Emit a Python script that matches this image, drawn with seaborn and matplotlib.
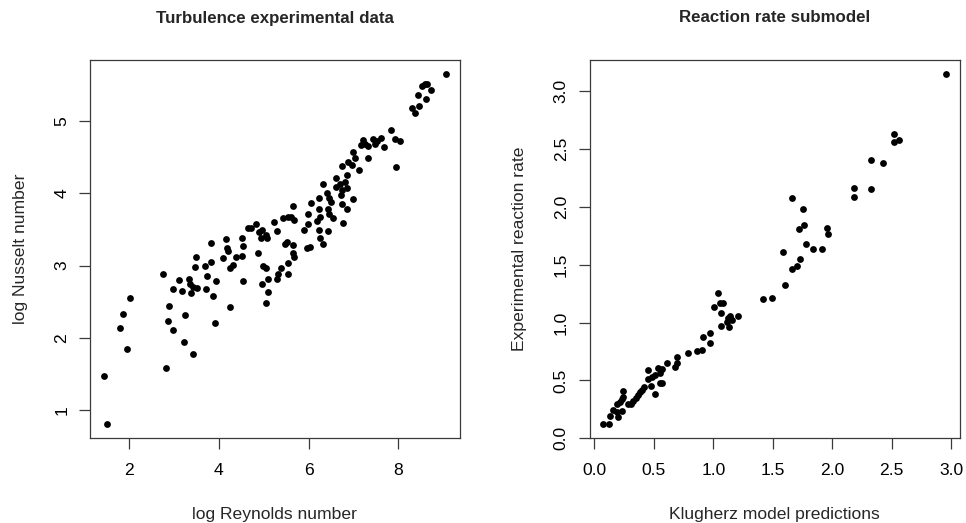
import matplotlib
matplotlib.use("Agg")
import matplotlib.pyplot as plt
import seaborn as sns
import pandas as pd

# ---- Left panel: turbulence data ----
log_reynolds = [
    1.43, 1.50, 2.02, 1.86, 1.79, 1.95, 2.76, 2.89, 2.86, 2.97, 2.81, 2.98, 3.22, 3.43,
    3.10, 3.24, 3.91, 4.25, 3.48, 3.46, 3.33, 3.35, 3.43, 3.52, 3.18, 3.38, 3.71, 3.73,
    3.69, 3.82, 3.82, 3.93, 3.87, 4.16, 4.17, 4.20, 4.10, 4.25, 4.32, 4.39, 4.51, 4.54,
    4.51, 4.54, 4.64, 4.71, 4.83, 4.88, 4.89, 4.97, 5.04, 4.94, 5.08, 5.23, 5.29, 4.99,
    5.04, 5.09, 4.95, 5.09, 5.04, 5.29, 5.32, 5.38, 5.53, 5.53, 5.47, 5.51, 5.66, 5.66,
    5.68, 5.43, 5.53, 5.61, 5.66, 5.68, 5.90, 5.98, 5.99, 5.96, 6.03, 6.06, 6.18, 6.23,
    6.25, 6.23, 6.25, 6.33, 6.44, 6.23, 6.33, 6.40, 6.45, 6.50, 6.42, 6.45, 6.55, 6.62,
    6.60, 6.70, 6.81, 6.74, 6.86, 6.72, 6.74, 6.85, 6.76, 6.99, 6.86, 6.74, 6.88, 6.96,
    6.99, 7.03, 7.13, 7.16, 7.22, 7.26, 7.33, 7.33, 7.43, 7.53, 7.48, 7.61, 7.68, 7.83,
    7.93, 8.04, 7.95, 8.30, 8.37, 8.46, 8.44, 8.62, 8.52, 8.59, 8.64, 8.73, 9.06,
]
log_nusselt = [
    1.47, 0.80, 2.55, 2.33, 2.14, 1.84, 2.88, 2.44, 2.23, 2.11, 1.58, 2.68, 1.94, 1.78,
    2.80, 2.32, 2.20, 2.42, 3.12, 2.98, 2.81, 2.75, 2.71, 2.69, 2.65, 2.62, 2.67, 2.86,
    2.99, 3.05, 3.31, 2.78, 2.58, 3.37, 3.24, 3.20, 3.10, 2.96, 3.01, 3.12, 3.38, 3.27,
    3.13, 2.79, 3.52, 3.52, 3.57, 3.17, 3.47, 3.49, 3.42, 3.38, 3.38, 3.61, 3.48, 3.00,
    2.96, 2.81, 2.75, 2.64, 2.48, 2.82, 2.89, 2.96, 2.88, 3.03, 3.30, 3.33, 3.29, 3.18,
    3.12, 3.66, 3.68, 3.67, 3.83, 3.63, 3.50, 3.58, 3.71, 3.25, 3.26, 3.87, 3.62, 3.78,
    3.68, 3.49, 3.38, 3.30, 3.48, 3.94, 4.13, 4.01, 3.93, 3.88, 3.78, 3.71, 3.66, 4.21,
    4.09, 4.13, 4.16, 4.05, 4.07, 3.98, 3.85, 3.78, 3.59, 3.92, 4.26, 4.38, 4.43, 4.39,
    4.58, 4.49, 4.33, 4.67, 4.74, 4.69, 4.66, 4.49, 4.76, 4.73, 4.69, 4.77, 4.64, 4.88,
    4.75, 4.72, 4.36, 5.19, 5.12, 5.21, 5.37, 5.31, 5.49, 5.52, 5.52, 5.43, 5.65,
]

# ---- Right panel: reaction rate ----
klugherz_pred = [
    0.076, 0.126, 0.132, 0.160, 0.188, 0.196, 0.230, 0.193, 0.216, 0.230, 0.244, 0.244,
    0.286, 0.308, 0.328, 0.348, 0.365, 0.384, 0.398, 0.420, 0.449, 0.454, 0.476, 0.487,
    0.510, 0.510, 0.538, 0.552, 0.571, 0.552, 0.571, 0.608, 0.678, 0.692, 0.692, 0.790,
    0.860, 0.908, 0.916, 0.972, 0.972, 1.008, 1.037, 1.062, 1.056, 1.084, 1.065, 1.113,
    1.126, 1.140, 1.132, 1.155, 1.210, 1.415, 1.496, 1.603, 1.659, 1.700, 1.729, 1.588,
    1.779, 1.835, 1.911, 1.661, 1.756, 1.765, 1.723, 1.953, 1.966, 2.185, 2.182, 2.323,
    2.429, 2.323, 2.521, 2.521, 2.563, 2.955,
]
experimental_rate = [
    0.121, 0.126, 0.195, 0.244, 0.230, 0.187, 0.240, 0.300, 0.310, 0.337, 0.360, 0.410,
    0.296, 0.300, 0.325, 0.345, 0.374, 0.402, 0.417, 0.446, 0.510, 0.590, 0.452, 0.532,
    0.547, 0.380, 0.605, 0.567, 0.596, 0.480, 0.480, 0.647, 0.618, 0.647, 0.700, 0.734,
    0.754, 0.762, 0.877, 0.912, 0.820, 1.136, 1.252, 1.085, 1.166, 1.166, 0.972, 1.007,
    1.036, 1.056, 0.964, 1.020, 1.059, 1.203, 1.214, 1.324, 1.460, 1.490, 1.548, 1.611,
    1.675, 1.632, 1.632, 2.078, 1.978, 1.842, 1.805, 1.813, 1.764, 2.164, 2.084, 2.150,
    2.380, 2.403, 2.561, 2.628, 2.576, 3.146,
]

left_xticks = [2, 4, 6, 8]
left_yticks = [1, 2, 3, 4, 5]
right_ticks = [0.0, 0.5, 1.0, 1.5, 2.0, 2.5, 3.0]

turb = pd.DataFrame({"re": log_reynolds, "nu": log_nusselt})
react = pd.DataFrame({"pred": klugherz_pred, "rate": experimental_rate})

sns.set_theme(style="white")
plt.rcParams["font.family"] = ["Liberation Sans", "DejaVu Sans"]

W, H = 966, 523
fig = plt.figure(figsize=(W / 100, H / 100), dpi=100)
fig.patch.set_facecolor("white")

frame_col = "#3a3a3a"
label_fs = 12.6
title_fs = 12.2


def style_axes(ax, xticks, yticks, xfmt, yfmt):
    for sp in ax.spines.values():
        sp.set_visible(True)
        sp.set_color(frame_col)
        sp.set_linewidth(0.9)
    ax.set_facecolor("white")
    ax.set_xticks(xticks)
    ax.set_yticks(yticks)
    ax.set_xticklabels([xfmt(v) for v in xticks])
    ax.set_yticklabels([yfmt(v) for v in yticks])
    ax.tick_params(axis="both", direction="out", length=8, width=0.9,
                   color=frame_col, labelsize=label_fs, labelcolor="black",
                   bottom=True, left=True, top=False, right=False)
    ax.tick_params(axis="x", pad=10)
    ax.tick_params(axis="y", pad=7)
    for lbl in ax.get_yticklabels():
        lbl.set_rotation(90)
        lbl.set_va("center")
        lbl.set_ha("right")
    ax.grid(False)


def px_axes(x0, x1, y0, y1):
    return fig.add_axes([x0 / W, 1 - y1 / H, (x1 - x0) / W, (y1 - y0) / H])


ax1 = px_axes(90, 459.6, 60, 438.3)
sns.scatterplot(data=turb, x="re", y="nu", ax=ax1, color="black", s=24,
                linewidth=0, legend=False)
ax1.set_xlim(1.124, 9.365)
ax1.set_ylim(0.608, 5.848)
style_axes(ax1, left_xticks, left_yticks, lambda v: f"{v:d}", lambda v: f"{v:d}")
ax1.set_xlabel("log Reynolds number", fontsize=label_fs, labelpad=21)
ax1.set_ylabel("log Nusselt number", fontsize=label_fs, labelpad=19)
ax1.set_title("Turbulence experimental data", fontsize=title_fs,
              fontweight="bold", pad=27)

ax2 = px_axes(589.7, 959.6, 60, 438.3)
sns.scatterplot(data=react, x="pred", y="rate", ax=ax2, color="black", s=24,
                linewidth=0, legend=False)
ax2.set_xlim(-0.0395, 3.07)
ax2.set_ylim(0.0, 3.267)
style_axes(ax2, right_ticks, right_ticks, lambda v: f"{v:.1f}", lambda v: f"{v:.1f}")
ax2.set_xlabel("Klugherz model predictions", fontsize=label_fs, labelpad=21)
ax2.set_ylabel("Experimental reaction rate", fontsize=label_fs, labelpad=19)
ax2.set_title("Reaction rate submodel", fontsize=title_fs,
              fontweight="bold", pad=27)

fig.savefig("out.png", dpi=100, facecolor="white")
